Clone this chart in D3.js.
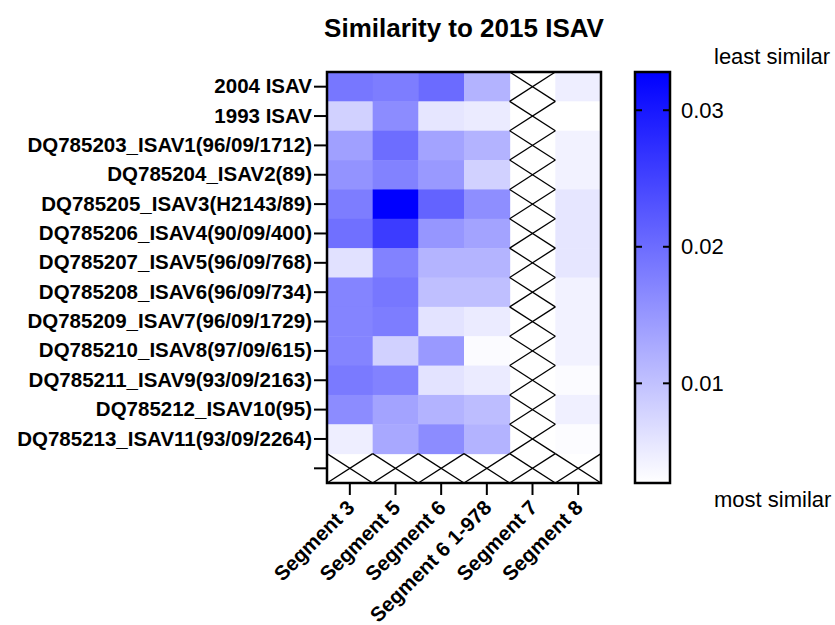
<!DOCTYPE html>
<html>
<head>
<meta charset="utf-8">
<script src="https://cdn.jsdelivr.net/npm/d3@7"></script>
<style>
body { margin: 0; background: #fff; }
text { font-family: "Liberation Sans", Arial, sans-serif; }
</style>
</head>
<body>
<svg id="chart" width="835" height="625"></svg>
<script>
// rows top to bottom, last row is an empty (hatched) one
const strains = ["2004 ISAV", "1993 ISAV", "DQ785203_ISAV1(96/09/1712)", "DQ785204_ISAV2(89)",
    "DQ785205_ISAV3(H2143/89)", "DQ785206_ISAV4(90/09/400)", "DQ785207_ISAV5(96/09/768)",
    "DQ785208_ISAV6(96/09/734)", "DQ785209_ISAV7(96/09/1729)", "DQ785210_ISAV8(97/09/615)",
    "DQ785211_ISAV9(93/09/2163)", "DQ785212_ISAV10(95)", "DQ785213_ISAV11(93/09/2264)", ""];
const segments = ["Segment 3", "Segment 5", "Segment 6", "Segment 6 1-978", "Segment 7", "Segment 8"];

// distance values per segment (null = no data, drawn hatched)
const seg3 = [0.0187, 0.0081, 0.0139, 0.0154, 0.0180, 0.0196, 0.0063, 0.0172, 0.0172, 0.0172, 0.0184, 0.0163, 0.0047, null];
const seg5 = [0.0180, 0.0163, 0.0199, 0.0175, 0.0328, 0.0257, 0.0175, 0.0187, 0.0180, 0.0081, 0.0175, 0.0136, 0.0130, null];
const seg6 = [0.0202, 0.0057, 0.0136, 0.0147, 0.0211, 0.0151, 0.0115, 0.0102, 0.0060, 0.0147, 0.0060, 0.0117, 0.0163, null];
const seg6a = [0.0117, 0.0051, 0.0117, 0.0081, 0.0160, 0.0136, 0.0115, 0.0102, 0.0051, 0.0032, 0.0051, 0.0105, 0.0117, null];
const seg7 = [null, null, null, null, null, null, null, null, null, null, null, null, null, null];
const seg8 = [0.0047, 0.0027, 0.0042, 0.0042, 0.0057, 0.0057, 0.0057, 0.0042, 0.0042, 0.0042, 0.0032, 0.0045, 0.0030, null];

const columns = [seg3, seg5, seg6, seg6a, seg7, seg8];
const colorTicks = [0.01, 0.02, 0.03];

const svg = d3.select("#chart");
const pLeft = 327, pRight = 601, pTop = 72, pBottom = 483;

let x = d3.scaleBand().domain(segments).range([pLeft, pRight]);
let y = d3.scaleBand().domain(d3.range(strains.length)).range([pTop, pBottom]);
let color = d3.scaleLinear().domain([0.0027, 0.0328]).range(["#ffffff", "#0000ff"]).clamp(true);

let cells = [];
segments.forEach((s, i) => {
    columns[i].forEach((v, j) => cells.push({seg: s, row: j, v: v}));
});

// filled cells
svg.append("g").selectAll("rect")
    .data(cells.filter(d => d.v !== null))
    .join("rect")
    .attr("x", d => x(d.seg))
    .attr("y", d => y(d.row))
    .attr("width", x.bandwidth() + 0.5)
    .attr("height", y.bandwidth() + 0.5)
    .attr("fill", d => color(d.v));

// hatched (missing) cells: an X in each
let miss = svg.append("g").attr("stroke", "#000").attr("stroke-width", 1.3);
cells.filter(d => d.v === null).forEach(d => {
    let x0 = x(d.seg), x1 = x0 + x.bandwidth(), y0 = y(d.row), y1 = y0 + y.bandwidth();
    miss.append("line").attr("x1", x0).attr("y1", y0).attr("x2", x1).attr("y2", y1);
    miss.append("line").attr("x1", x1).attr("y1", y0).attr("x2", x0).attr("y2", y1);
});

// frame
svg.append("rect")
    .attr("x", pLeft).attr("y", pTop)
    .attr("width", pRight - pLeft).attr("height", pBottom - pTop)
    .attr("fill", "none").attr("stroke", "#000").attr("stroke-width", 2.5);

// y axis
let yAxis = svg.append("g")
    .attr("transform", `translate(${pLeft},0)`)
    .call(d3.axisLeft(y).tickSize(13).tickPadding(2).tickFormat(i => strains[i]));
yAxis.select(".domain").remove();
yAxis.selectAll("line").attr("stroke-width", 2);
yAxis.selectAll("text").attr("font-size", 20.5).attr("font-weight", "bold").attr("fill", "#000")
    .attr("font-family", "Liberation Sans, Arial, sans-serif");

// x axis
let xAxis = svg.append("g")
    .attr("transform", `translate(0,${pBottom})`)
    .call(d3.axisBottom(x).tickSize(12).tickFormat(""));
xAxis.select(".domain").remove();
xAxis.selectAll("line").attr("stroke-width", 2);

svg.append("g").selectAll("text")
    .data(segments)
    .join("text")
    .attr("transform", d => `translate(${x(d) + x.bandwidth() / 2 + 6},${pBottom + 26}) rotate(-45)`)
    .attr("text-anchor", "end")
    .attr("font-size", 20.5)
    .attr("font-weight", "bold")
    .text(d => d);

// title
svg.append("text")
    .attr("x", 464).attr("y", 37)
    .attr("text-anchor", "middle")
    .attr("font-size", 26).attr("font-weight", "bold")
    .text("Similarity to 2015 ISAV");

// colour bar
const cbX = 635, cbW = 35;
let cScale = d3.scaleLinear().domain(color.domain()).range([pBottom, pTop]);

let grad = svg.append("defs").append("linearGradient")
    .attr("id", "cbar").attr("x1", 0).attr("y1", 1).attr("x2", 0).attr("y2", 0);
grad.append("stop").attr("offset", 0).attr("stop-color", color.range()[0]);
grad.append("stop").attr("offset", 1).attr("stop-color", color.range()[1]);

svg.append("rect")
    .attr("x", cbX).attr("y", pTop).attr("width", cbW).attr("height", pBottom - pTop)
    .attr("fill", "url(#cbar)").attr("stroke", "#000").attr("stroke-width", 2.5);

let cb = svg.append("g");
cb.selectAll(".tl").data(colorTicks).join("line")
    .attr("x1", cbX).attr("x2", cbX + 7)
    .attr("y1", d => cScale(d)).attr("y2", d => cScale(d))
    .attr("stroke", "#000").attr("stroke-width", 2);
cb.selectAll(".tr").data(colorTicks).join("line")
    .attr("x1", cbX + cbW - 7).attr("x2", cbX + cbW)
    .attr("y1", d => cScale(d)).attr("y2", d => cScale(d))
    .attr("stroke", "#000").attr("stroke-width", 2);
cb.selectAll("text").data(colorTicks).join("text")
    .attr("x", cbX + cbW + 11)
    .attr("y", d => cScale(d))
    .attr("dy", "0.35em")
    .attr("font-size", 22)
    .text(d => d3.format(".2f")(d));

svg.append("text").attr("x", 714).attr("y", 64).attr("font-size", 22).text("least similar");
svg.append("text").attr("x", 714).attr("y", 507).attr("font-size", 22).text("most similar");
</script>
</body>
</html>
